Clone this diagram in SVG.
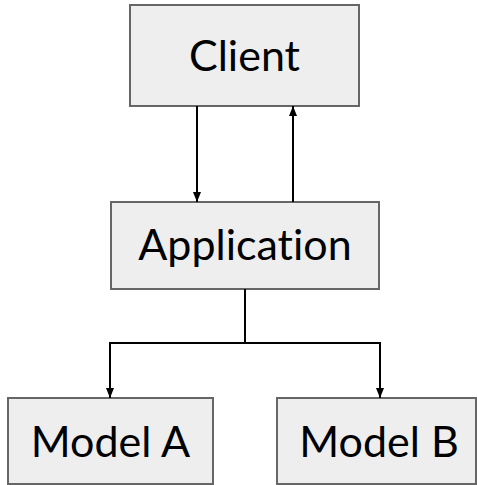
<svg xmlns="http://www.w3.org/2000/svg" width="477" height="485" viewBox="0 0 477 485">
<style>
.box{fill:#eeeeee;stroke:#666666;stroke-width:2}
.lbl{font-family:Lato,"Liberation Sans",sans-serif;font-size:43px;fill:#000;text-anchor:middle;font-variant-ligatures:none}
.edge{fill:none;stroke:#000;stroke-width:2}
</style>
<defs>
<marker id="ah" viewBox="0 0 10 8" refX="10" refY="4" markerWidth="5" markerHeight="4" markerUnits="strokeWidth" orient="auto">
<path d="M0,0 L10,4 L0,8 z" fill="#000"/>
</marker>
</defs>
<rect width="477" height="485" fill="#fff"/>
<g id="client"><rect class="box" x="130" y="5" width="229" height="101"/><text class="lbl" x="244.5" y="71">Client</text></g>
<g id="application"><rect class="box" x="111" y="202" width="268" height="87"/><text class="lbl" x="245" y="260">Application</text></g>
<g id="modelA"><rect class="box" x="8" y="398" width="205" height="86"/><text class="lbl" x="110.5" y="457">Model A</text></g>
<g id="modelB"><rect class="box" x="277" y="398" width="199" height="86"/><text class="lbl" x="379" y="457">Model B</text></g>
<g id="connectors">
<path class="edge" d="M197,106 V202" marker-end="url(#ah)"/>
<path class="edge" d="M293,202 V106" marker-end="url(#ah)"/>
<path class="edge" d="M245,289 V343 H110 V398" marker-end="url(#ah)"/>
<path class="edge" d="M245,343 H380 V398" marker-end="url(#ah)"/>
</g>
</svg>
